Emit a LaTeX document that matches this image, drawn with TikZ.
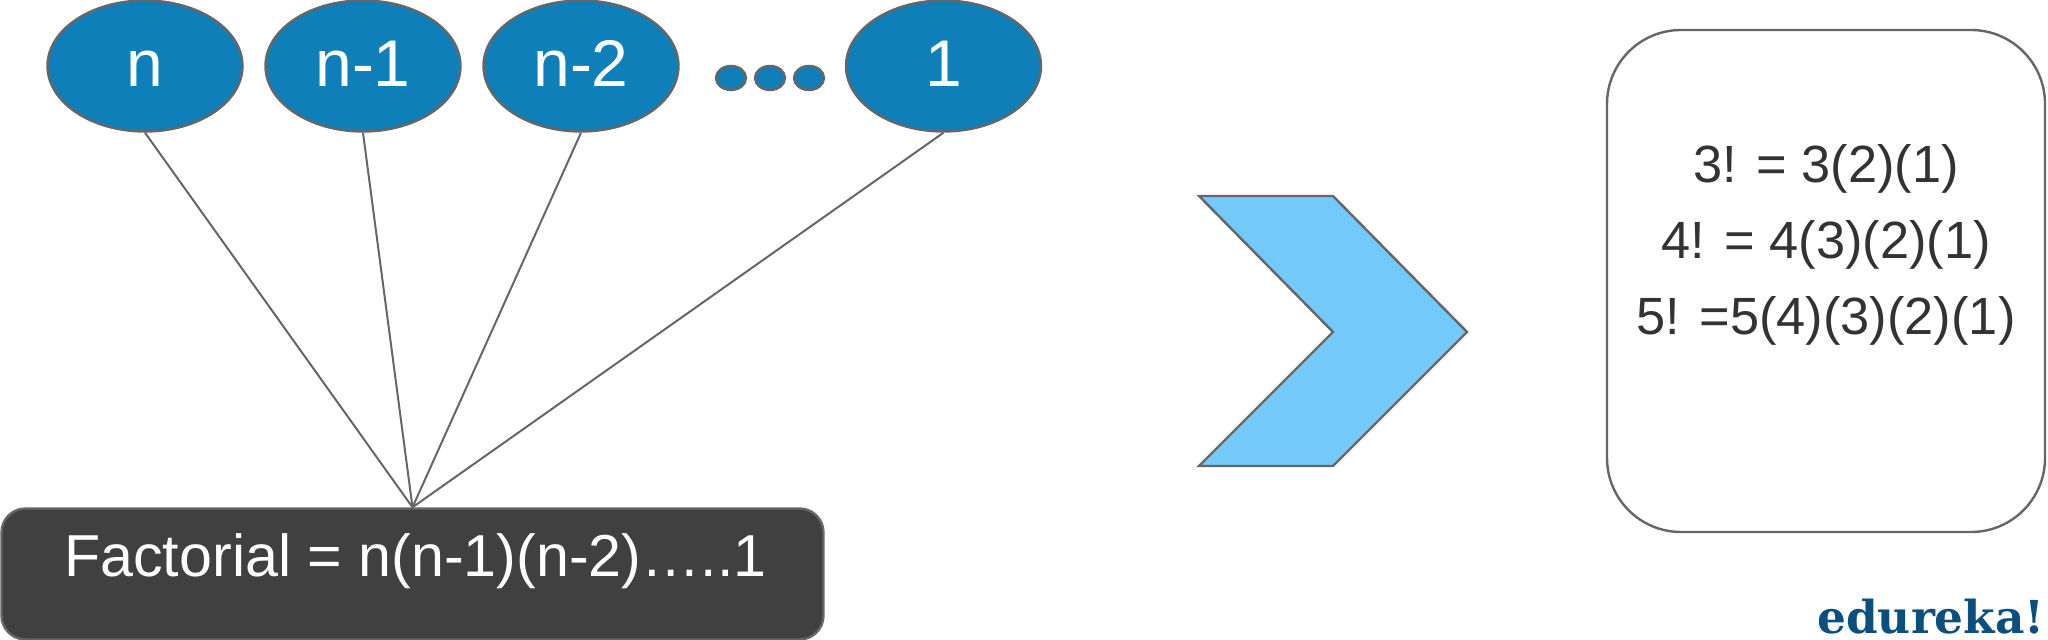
\documentclass[tikz,border=0pt]{standalone}
\usepackage{fontspec}
\setmainfont{Liberation Sans}
\newfontfamily\logofont{DejaVu Serif}
\usetikzlibrary{shapes.geometric}
\definecolor{ovalblue}{HTML}{0F7FBA}
\definecolor{edge}{HTML}{666666}
\definecolor{chev}{HTML}{73C9F7}
\definecolor{darkbox}{HTML}{404040}
\definecolor{ink}{HTML}{333333}
\definecolor{logoblue}{HTML}{0B4F7F}
\tikzset{
  x=0.5pt,y=-0.5pt,
  oval/.style={ellipse,draw=edge,line width=1.2pt,fill=ovalblue,inner sep=0pt,text=white,
    minimum width=97.5pt,minimum height=65.5pt,font=\fontsize{33}{36}\selectfont,text height=21pt,text depth=0pt},
  dot/.style={ellipse,draw=edge,line width=1.2pt,fill=ovalblue,inner sep=0pt,minimum width=15pt,minimum height=12pt},
  link/.style={draw=edge,line width=1pt},
}
\begin{document}
\begin{tikzpicture}
\useasboundingbox (0,0) rectangle (2048,640);
\node[rectangle,rounded corners=12pt,draw=edge,line width=1.2pt,fill=darkbox,text=white,inner sep=0pt,
  minimum width=411pt,minimum height=65.5pt,font=\fontsize{29.6}{33}\selectfont,text height=22pt,text depth=20pt]
  (fact) at (412.5,574) {\hspace*{3pt}Factorial = n(n-1)(n-2)…..1};
\coordinate (apex) at (fact.north);
\node[oval] (n) at (145,66) {n};
\node[oval] (n1) at (363,66) {n-1};
\node[oval] (n2) at (581,66) {n-2};
\node[oval] (one) at (943.5,66) {1};
\node[dot] (d1) at (731,78) {};
\node[dot] (d2) at (770,78) {};
\node[dot] (d3) at (809,78) {};
\draw[link] (n.south) -- (apex);
\draw[link] (n1.south) -- (apex);
\draw[link] (n2.south) -- (apex);
\draw[link] (one.south) -- (apex);
\draw[draw=edge,line width=1.2pt,fill=chev,line join=miter]
  (1199,196) -- (1333,196) -- (1467,332) -- (1333,466) -- (1199,466) -- (1333,332) -- cycle;
\node[rectangle,rounded corners=37pt,draw=edge,line width=1.2pt,fill=white,text=ink,inner sep=0pt,
  minimum width=219pt,minimum height=251pt,font=\fontsize{26.2}{38}\selectfont]
  (res) at (1826,281) {\parbox[c]{210pt}{\centering\baselineskip=38pt
    3! = 3(2)(1)\\4! = 4(3)(2)(1)\\5! =5(4)(3)(2)(1)\par\vspace*{36pt}}};
\node[inner sep=0pt,anchor=base east,text=logoblue,font=\logofont\bfseries\fontsize{22.7}{24}\selectfont] (logo) at (2045,633) {edureka!};
\end{tikzpicture}
\end{document}
